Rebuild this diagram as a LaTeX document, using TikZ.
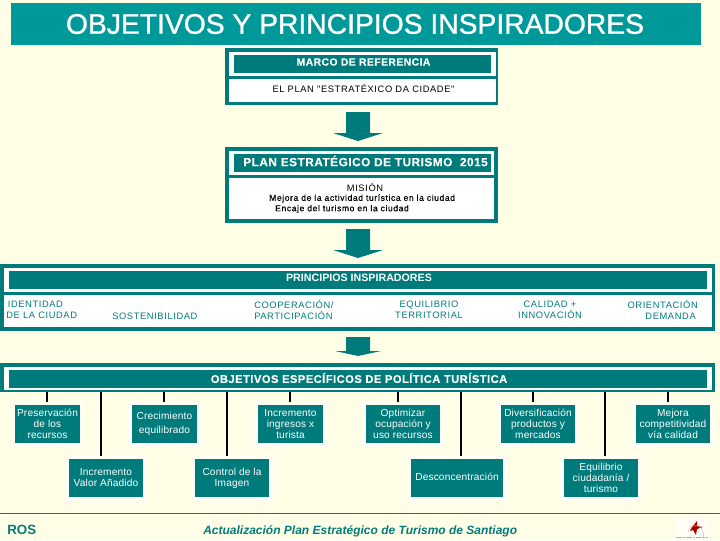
\documentclass[tikz,border=0pt]{standalone}
\usepackage{fontspec}
\setmainfont{Liberation Sans}
\newfontfamily\spaced[LetterSpace=6.5]{Liberation Sans}
\newfontfamily\goalfont[LetterSpace=1.5]{Liberation Sans}
\newfontfamily\spacedb[LetterSpace=4,FakeBold=0.15]{Liberation Sans Bold}
\newfontfamily\heavy[FakeBold=1]{Liberation Sans}
\newfontfamily\smudged[LetterSpace=7,FakeBold=0.5]{Liberation Sans}
\definecolor{bg}{HTML}{FFFFE8}
\definecolor{teal1}{HTML}{007B7B}
\definecolor{teal2}{HTML}{009999}
\definecolor{halo}{HTML}{FFFFF6}
\newcommand{\fs}[1]{\fontsize{#1}{8.25}\selectfont}
\tikzset{
  tealfill/.style={fill=teal1,draw=none},
  whitefill/.style={fill=white,draw=none},
  lbl/.style={inner sep=0pt,align=center,font=\fs{7}\spaced},
  headlbl/.style={inner sep=0pt,text=white,font=\fs{8}\bfseries},
  darklbl/.style={inner sep=0pt,align=center,text=teal1,font=\fs{7}\spaced},
  goalbox/.style={fill=teal1,inner sep=0pt,text=white,align=center,font=\fs{7.6}\goalfont,
    preaction={draw=halo,line width=6pt,fill=halo}},
  link/.style={draw=black,line width=1pt,shorten >=2.25pt}
}
\begin{document}
\begin{tikzpicture}[x=0.75pt,y=-0.75pt]
\useasboundingbox (0,0) rectangle (720,540);
\fill[bg] (0,0) rectangle (720,540);
% title
\node[fill=teal2,minimum width=517.5pt,minimum height=31.5pt,inner sep=0pt,anchor=north west] (title) at (11,3) {};
\node[inner sep=0pt,text=white,font=\fs{21.2}\heavy] (titletext) at (355,24) {OBJETIVOS Y PRINCIPIOS INSPIRADORES};
% box 1
\fill[tealfill] (225,48) rectangle (498,105);
\fill[whitefill] (229,52) rectangle (496,76);
\fill[tealfill] (234,55) rectangle (491,73);
\fill[whitefill] (229,79) rectangle (496,102);
\node[headlbl,font=\fs{7.8}\spacedb] (marco) at (363.5,62) {MARCO DE REFERENCIA};
\node[lbl] (plan) at (363.5,88) {EL PLAN "ESTRATÉXICO DA CIDADE"};
% arrow 1
\fill[tealfill] (346,112) -- (370,112) -- (370,133) -- (383,133) -- (358,141) -- (333,133) -- (346,133) -- cycle;
% box 2
\fill[tealfill] (225,147) rectangle (498,223);
\fill[whitefill] (229,151) rectangle (494,175);
\fill[tealfill] (234,154) rectangle (491,172);
\fill[whitefill] (229,178) rectangle (494,219);
\node[headlbl,font=\fs{8.9}\spacedb,anchor=west] (plan2) at (243,161) {PLAN ESTRATÉGICO DE TURISMO\ \ 2015};
\node[lbl] (mision) at (365,187) {MISIÓN};
\node[lbl,font=\fs{6.4}\smudged,anchor=west] (mis1) at (269,198.5) {Mejora de la actividad turística en la ciudad};
\node[lbl,font=\fs{6.4}\smudged,anchor=west] (mis2) at (275,209) {Encaje del turismo en la ciudad};
% arrow 2
\fill[tealfill] (346,229) -- (370,229) -- (370,250) -- (383,250) -- (358,258) -- (333,250) -- (346,250) -- cycle;
% principios
\fill[tealfill] (0,264) rectangle (715,331);
\fill[whitefill] (4,268) rectangle (712,292);
\fill[tealfill] (9,271) rectangle (707,289);
\fill[whitefill] (4,295) rectangle (712,327);
\node[headlbl] (princ) at (359,278) {PRINCIPIOS INSPIRADORES};
\node[darklbl,anchor=west,align=left] (p1) at (6,310) {\,IDENTIDAD\\DE LA CIUDAD};
\node[darklbl,anchor=west] (p2) at (112,316) {SOSTENIBILIDAD};
\node[darklbl,anchor=west,align=left] (p3) at (254,310) {COOPERACIÓN/\\PARTICIPACIÓN};
\node[darklbl] (p4) at (429,310) {EQUILIBRIO\\TERRITORIAL};
\node[darklbl] (p5) at (550,310) {CALIDAD +\\INNOVACIÓN};
\node[darklbl,anchor=east,align=right] (p6) at (698,310) {ORIENTACIÓN\\DEMANDA\hspace*{1.5pt}};
% arrow 3
\fill[tealfill] (346,337) -- (370,337) -- (370,351) -- (381,351) -- (358,356) -- (335,351) -- (346,351) -- cycle;
% objetivos
\fill[tealfill] (0,363) rectangle (715,392);
\fill[whitefill] (4,367) rectangle (712,390);
\fill[tealfill] (9,370) rectangle (707,388);
\node[headlbl,font=\fs{8.4}\spacedb] (obj) at (359,378) {OBJETIVOS ESPECÍFICOS DE POLÍTICA TURÍSTICA};
% goal boxes
\newcommand{\goal}[5]{\node[goalbox,minimum width=#3*0.75pt,minimum height=38*0.75pt] (#1) at (#2,#4) {#5};}
\coordinate (t1) at (47,392);\coordinate (t2) at (101,392);\coordinate (t3) at (164,392);
\coordinate (t4) at (227,392);\coordinate (t5) at (290,392);\coordinate (t6) at (398,392);
\coordinate (t7) at (461,392);\coordinate (t8) at (533,392);\coordinate (t9) at (605,392);
\coordinate (t10) at (668,392);
\goal{g1}{47.5}{65}{424}{Preservación\\de los\\recursos}
\goal{g3}{164.5}{65}{424}{Crecimiento\\[2pt]equilibrado}
\goal{g5}{290.5}{65}{424}{Incremento\\ingresos x\\turista}
\goal{g6}{403}{74}{424}{Optimizar\\ocupación y\\uso recursos}
\goal{g8}{538}{74}{424}{Diversificación\\productos y\\mercados}
\goal{g10}{673}{74}{424}{Mejora\\competitividad\\vía calidad}
\goal{g2}{106}{74}{478}{Incremento\\Valor Añadido}
\goal{g4}{232}{74}{478}{Control de la\\Imagen}
\goal{g7}{457}{92}{478}{\raisebox{2.25pt}{Desconcentración}}
\goal{g9}{601}{74}{478}{Equilibrio\\ciudadanía /\\turismo}
\draw[link] (t1) -- (t1 |- g1.north);
\draw[link] (t3) -- (t3 |- g3.north);
\draw[link] (t5) -- (t5 |- g5.north);
\draw[link] (t6) -- (t6 |- g6.north);
\draw[link] (t8) -- (t8 |- g8.north);
\draw[link] (t10) -- (t10 |- g10.north);
\draw[link] (t2) -- (t2 |- g2.north);
\draw[link] (t4) -- (t4 |- g4.north);
\draw[link] (t7) -- (t7 |- g7.north);
\draw[link] (t9) -- (t9 |- g9.north);
% footer
\draw[teal1,line width=0.75pt] (0,513) -- (720,513);
\node[inner sep=0pt,text=teal1,font=\fs{10}\bfseries,anchor=west] (ros) at (7,530) {ROS};
\node[inner sep=0pt,text=teal1,font=\fs{9}\bfseries\itshape,anchor=west] (foot) at (203,531) {Actualización Plan Estratégico de Turismo de Santiago};
% logo
\fill[halo] (675,518) rectangle (709,540);
\fill[red!70!black] (697,521) -- (697,526) -- (703,527) -- (697,529) -- (696,535) -- (693,530) -- (690,531) -- (692,527) -- cycle;
\draw[gray!60,line width=0.3pt] (688,532) arc (200:380:8 and 10);
\draw[red!45,line width=0.8pt,dash pattern=on 2pt off 0.5pt] (676,537.5) -- (708,537.5);
\end{tikzpicture}
\end{document}
